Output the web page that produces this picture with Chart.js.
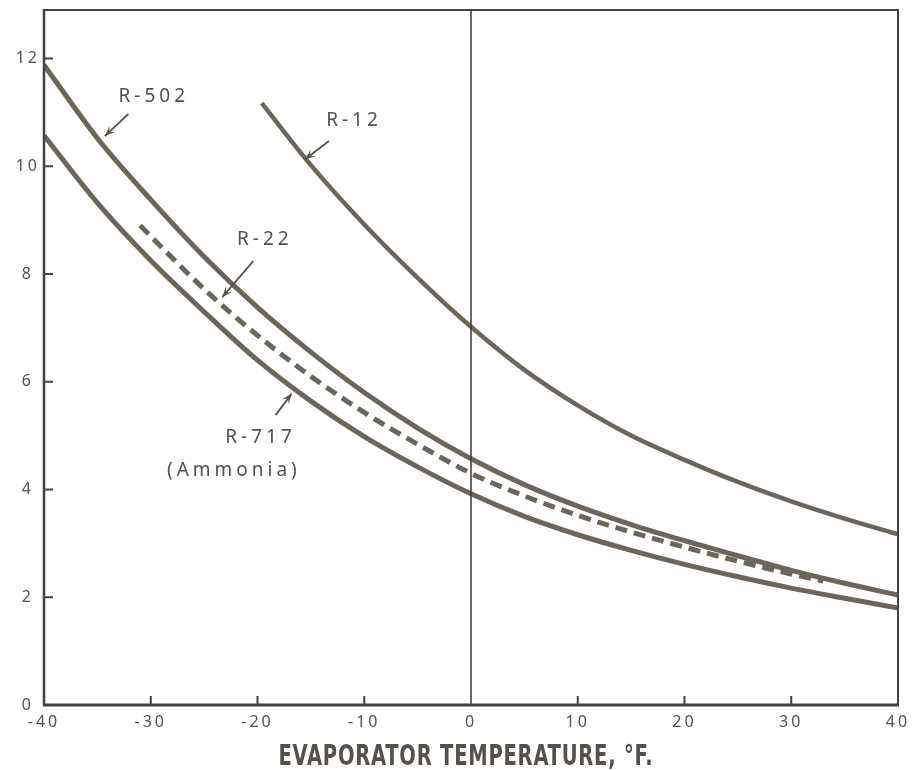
<!DOCTYPE html>
<html><head><meta charset="utf-8">
<script src="https://cdn.jsdelivr.net/npm/chart.js@4.4.1/dist/chart.umd.min.js"></script>
<style>html,body{margin:0;padding:0;background:#fff}</style>
</head><body>
<canvas id="c" width="921" height="770"></canvas>
<script>
// ---- data ----
const temps = [-40,-35,-30,-25,-20,-15,-10,-5,0,5,10,15,20,25,30,35,40];
const r502  = [11.88,10.52,9.38,8.32,7.38,6.55,5.8,5.14,4.57,4.09,3.69,3.35,3.05,2.77,2.5,2.26,2.04];
const r717  = [10.57,9.32,8.25,7.3,6.4,5.64,4.98,4.42,3.92,3.5,3.16,2.87,2.61,2.38,2.17,1.98,1.8];
const r12Temps = [-19.6,-15,-10,-5,0,5,10,15,20,25,30,35,40];
const r12      = [11.17,10.02,8.92,7.93,7.02,6.22,5.56,5.0,4.55,4.14,3.78,3.46,3.17];
const r22Temps = [-31,-25,-20,-15,-10,-5,0,5,10,15,20,25,30,33];
const r22      = [8.9,7.72,6.86,6.1,5.43,4.84,4.3,3.88,3.52,3.21,2.93,2.67,2.43,2.3];
const xTickValues = [-40,-30,-20,-10,0,10,20,30,40];
const yTickValues = [0,2,4,6,8,10,12];
const xTitle = 'EVAPORATOR TEMPERATURE, \u00B0F.';

// ---- styling ----
const lineColor = '#6b655c';
const inkColor = '#46413c';
const textColor = '#55504a';

const pts = (xs, ys) => xs.map((x, i) => ({x, y: ys[i]}));

const labels = [
  {text:'R-502', x:-29.9, y:11.3},
  {text:'R-12', x:-11.15, y:10.84},
  {text:'R-22', x:-19.5, y:8.63},
  {text:'R-717', x:-19.9, y:4.97},
  {text:'(Ammonia)', x:-22.4, y:4.36}
];
const arrows = [
  {from:[-32.1,10.97], to:[-34.3,10.56]},
  {from:[-13.3,10.47], to:[-15.55,10.13]},
  {from:[-20.4,8.24], to:[-23.3,7.57]},
  {from:[-18.3,5.38], to:[-16.8,5.78]}
];

const deco = {
  id:'deco',
  beforeDraw(chart){ chart.ctx.letterSpacing = '3px'; },
  afterDatasetsDraw(chart){
    const {ctx, chartArea:a, scales:{x, y}} = chart;
    ctx.save();
    ctx.strokeStyle = inkColor;
    const seg = (x1,y1,x2,y2,w) => {ctx.lineWidth=w;ctx.beginPath();ctx.moveTo(x1,y1);ctx.lineTo(x2,y2);ctx.stroke();};
    const x0 = x.getPixelForValue(0);
    seg(x0, a.top, x0, a.bottom, 1.6);
    seg(a.left, a.top, a.right+1, a.top, 2);
    seg(a.right, a.top, a.right, a.bottom, 2);
    seg(a.left, a.top-1, a.left, a.bottom+1, 2.5);
    seg(a.left-1, a.bottom, a.right+1, a.bottom, 3);
    xTickValues.forEach(v => { if (v===-40||v===0||v===40) return; const px=x.getPixelForValue(v); seg(px, a.bottom, px, a.bottom-9, 2); });
    yTickValues.forEach(v => { if (v===0) return; const py=y.getPixelForValue(v); seg(a.left, py, a.left+9, py, 2); });
    ctx.restore();
  },
  afterDraw(chart){
    const {ctx, chartArea:a, scales:{x, y}} = chart;
    ctx.save();
    ctx.fillStyle = textColor;
    ctx.strokeStyle = '#5a544d';
    ctx.font = '19px "Noto Sans"';
    ctx.letterSpacing = '4px';
    ctx.textAlign = 'center';
    ctx.textBaseline = 'middle';
    labels.forEach(l => ctx.fillText(l.text, x.getPixelForValue(l.x)+2, y.getPixelForValue(l.y)));
    arrows.forEach(ar => {
      const x1=x.getPixelForValue(ar.from[0]), y1=y.getPixelForValue(ar.from[1]);
      const x2=x.getPixelForValue(ar.to[0]), y2=y.getPixelForValue(ar.to[1]);
      const ang=Math.atan2(y2-y1,x2-x1);
      ctx.lineWidth=1.8;
      ctx.beginPath();ctx.moveTo(x1,y1);ctx.lineTo(x2,y2);ctx.stroke();
      const L=11, W=0.38;
      ctx.beginPath();
      ctx.moveTo(x2,y2);
      ctx.lineTo(x2-L*Math.cos(ang-W), y2-L*Math.sin(ang-W));
      ctx.lineTo(x2-6*Math.cos(ang), y2-6*Math.sin(ang));
      ctx.lineTo(x2-L*Math.cos(ang+W), y2-L*Math.sin(ang+W));
      ctx.closePath();
      ctx.fillStyle='#5a544d';
      ctx.fill();
    });
    // axis title, fitted to the reference width
    ctx.fillStyle = textColor;
    ctx.letterSpacing = '1px';
    ctx.font = 'bold 29px "Liberation Sans Narrow", "DejaVu Sans Condensed", sans-serif';
    ctx.textBaseline = 'alphabetic';
    const w = ctx.measureText(xTitle).width;
    const sx = 375 / w;
    ctx.translate((a.left+a.right)/2 - 5, 765);
    ctx.scale(sx, 1);
    ctx.fillText(xTitle, 0, 0);
    ctx.restore();
  }
};

new Chart(document.getElementById('c'), {
  type:'line',
  data:{datasets:[
    {label:'R-502', data:pts(temps, r502), borderColor:lineColor, borderWidth:5},
    {label:'R-12', data:pts(r12Temps, r12), borderColor:lineColor, borderWidth:4.5},
    {label:'R-22', data:pts(r22Temps, r22), borderColor:lineColor, borderWidth:5, borderDash:[12,7]},
    {label:'R-717 (Ammonia)', data:pts(temps, r717), borderColor:lineColor, borderWidth:5}
  ]},
  options:{
    responsive:false,
    animation:false,
    devicePixelRatio:1,
    layout:{padding:{top:10,right:23,left:0,bottom:0}},
    elements:{point:{radius:0}, line:{cubicInterpolationMode:'monotone', fill:false}},
    plugins:{legend:{display:false}, tooltip:{enabled:false}},
    scales:{
      x:{type:'linear', min:-40, max:40,
        afterBuildTicks:s=>{s.ticks = xTickValues.map(v=>({value:v}));},
        afterFit:s=>{s.height=65; s.paddingLeft=0; s.paddingRight=0;},
        grid:{display:false, drawTicks:false}, border:{display:false},
        ticks:{font:{family:'Noto Sans', size:16}, color:textColor, padding:8, maxRotation:0, autoSkip:false}
      },
      y:{type:'linear', min:0, max:12.9,
        afterBuildTicks:s=>{s.ticks = yTickValues.map(v=>({value:v}));},
        afterFit:s=>{s.width=44; s.paddingTop=0; s.paddingBottom=0;},
        grid:{display:false, drawTicks:false}, border:{display:false},
        ticks:{font:{family:'Noto Sans', size:16}, color:textColor, padding:7, crossAlign:'center', autoSkip:false}
      }
    }
  },
  plugins:[deco]
});
</script>
</body></html>
